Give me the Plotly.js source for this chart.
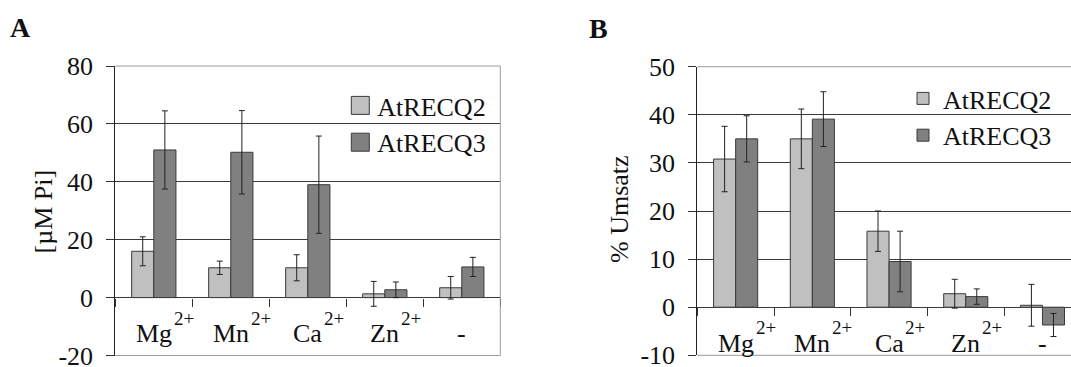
<!DOCTYPE html>
<html><head><meta charset="utf-8">
<script src="https://cdn.plot.ly/plotly-3.0.1.min.js"></script>
<style>html,body{margin:0;padding:0;background:#fff}#chart{width:1071px;height:367px}</style>
</head><body><div id="chart"></div>
<script>
// ---- data ----
const categories = ['Mg', 'Mn', 'Ca', 'Zn', '-'];
const charges = ['2+', '2+', '2+', '2+', ''];
const seriesNames = ['AtRECQ2', 'AtRECQ3'];

// Panel A: [µM Pi]
const piRECQ2 = [16.0, 10.3, 10.3, 1.3, 3.4];
const piRECQ2Err = [5.0, 2.3, 4.5, 4.3, 3.9];
const piRECQ3 = [51.0, 50.2, 39.0, 2.7, 10.6];
const piRECQ3Err = [13.5, 14.4, 16.8, 2.7, 3.3];

// Panel B: % Umsatz
const umRECQ2 = [30.8, 35.0, 15.8, 2.8, 0.4];
const umRECQ2Err = [6.8, 6.2, 4.2, 3.0, 4.35];
const umRECQ3 = [35.0, 39.1, 9.5, 2.2, -3.7];
const umRECQ3Err = [4.8, 5.7, 6.3, 1.6, 2.4];

const tickValsA = [-20, 0, 20, 40, 60, 80];
const tickTextA = ['-20', '0', '20', '40', '60', '80'];
const tickValsB = [-10, 0, 10, 20, 30, 40, 50];
const tickTextB = ['-10', '0', '10', '20', '30', '40', '50'];

const titleA = '[µM Pi]';
const titleB = '% Umsatz';
const panelLetters = ['A', 'B'];

// ---- layout helpers ----
const W = 1071, H = 367;
const px = v => v / W;
const py = v => 1 - v / H;
const FONT = 'Liberation Serif';
const TXT = '#111111';
const LIGHT = '#c0c0c0', DARK = '#808080', EDGE = '#3a3a3a';
const GRID = '#3a3a3a', BORDER = '#9a9a9a';
const LABEL_SIZE = 26, SUP_SIZE = 19;

const measureCtx = document.createElement('canvas').getContext('2d');
measureCtx.font = LABEL_SIZE + 'px "Liberation Serif"';
const textWidth = t => measureCtx.measureText(t).width;

function barTrace(name, y, err, color, xa, ya, legend) {
  return {
    type: 'bar', name: name, x: categories, y: y, xaxis: xa, yaxis: ya,
    legend: legend, showlegend: true,
    marker: {color: color, line: {color: EDGE, width: 1}},
    error_y: {type: 'data', array: err, visible: true, color: '#222', thickness: 1, width: 3},
    hoverinfo: 'skip'
  };
}

const traces = [
  barTrace(seriesNames[0], piRECQ2, piRECQ2Err, LIGHT, 'x', 'y', 'legend'),
  barTrace(seriesNames[1], piRECQ3, piRECQ3Err, DARK, 'x', 'y', 'legend'),
  barTrace(seriesNames[0], umRECQ2, umRECQ2Err, LIGHT, 'x2', 'y2', 'legend2'),
  barTrace(seriesNames[1], umRECQ3, umRECQ3Err, DARK, 'x2', 'y2', 'legend2')
];

const yDomA = [py(355.5), py(66)];
const yDomB = [py(355.3), py(66.7)];
const rangeA = [-20, 80];
const rangeB = [-10, 50];
const zeroPos = (dom, r) => dom[0] + (0 - r[0]) / (r[1] - r[0]) * (dom[1] - dom[0]);

const catW = 76.7;
const xLeftB = 697.3;

function yAxis(dom, r, tv, tt, anchor) {
  return {
    domain: dom, range: r, anchor: anchor, tickmode: 'array', tickvals: tv, ticktext: tt,
    ticks: 'outside', ticklen: 8, tickcolor: '#333', tickwidth: 1, ticklabelstandoff: 8,
    ticklabeloverflow: 'allow',
    showline: true, linecolor: '#222', linewidth: 1,
    showgrid: true, gridcolor: GRID, gridwidth: 1,
    zeroline: true, zerolinecolor: GRID, zerolinewidth: 1,
    tickfont: {family: FONT, size: 26, color: TXT}, fixedrange: true
  };
}
function xAxis(dom, r, pos) {
  return {
    domain: dom, range: r, type: 'category', anchor: 'free', position: pos,
    showticklabels: false, ticks: 'outside', ticklen: 8, tickcolor: '#333', tickwidth: 1,
    tickson: 'boundaries', showgrid: false, showline: false, zeroline: false, fixedrange: true
  };
}

function catLabels(xref, yref) {
  const out = [];
  categories.forEach((c, i) => {
    out.push({
      xref: xref, yref: yref, x: c, y: 0, xanchor: 'center', yanchor: 'bottom',
      yshift: -52.5, showarrow: false, text: c, font: {family: FONT, size: LABEL_SIZE, color: TXT}
    });
    if (charges[i]) {
      out.push({
        xref: xref, yref: yref, x: c, y: 0, xanchor: 'left', yanchor: 'bottom',
        xshift: textWidth(c) / 2, yshift: -33, showarrow: false, text: charges[i],
        font: {family: FONT, size: SUP_SIZE, color: TXT}
      });
    }
  });
  return out;
}

const annotations = [].concat(
  catLabels('x', 'y'), catLabels('x2', 'y2'),
  [
    {xref: 'paper', yref: 'paper', x: px(42.5), y: py(212), xanchor: 'center', yanchor: 'middle',
     textangle: -90, showarrow: false, text: titleA, font: {family: FONT, size: 26, color: TXT}},
    {xref: 'paper', yref: 'paper', x: px(619), y: py(209), xanchor: 'center', yanchor: 'middle',
     textangle: -90, showarrow: false, text: titleB, font: {family: FONT, size: 26, color: TXT}},
    {xref: 'paper', yref: 'paper', x: px(20.5), y: py(27.5), xanchor: 'center', yanchor: 'middle',
     showarrow: false, text: '<b>' + panelLetters[0] + '</b>', font: {family: FONT, size: 28, color: TXT}},
    {xref: 'paper', yref: 'paper', x: px(598.5), y: py(29), xanchor: 'center', yanchor: 'middle',
     showarrow: false, text: '<b>' + panelLetters[1] + '</b>', font: {family: FONT, size: 28, color: TXT}}
  ]
);

function borderLine(xr, yr, x0, y0, x1, y1) {
  return {type: 'line', xref: xr + ' domain', yref: yr + ' domain', x0: x0, y0: y0, x1: x1, y1: y1,
          line: {color: BORDER, width: 1}, layer: 'above'};
}
const shapes = [
  borderLine('x', 'y', 0, 1, 1, 1),
  borderLine('x', 'y', 1, 0, 1, 1),
  borderLine('x', 'y', 0, 0, 1, 0),
  borderLine('x2', 'y2', 0, 1, 1, 1),
  borderLine('x2', 'y2', 0, 0, 1, 0)
];

const legendStyle = {
  xanchor: 'left', yanchor: 'top', bgcolor: 'rgba(0,0,0,0)', borderwidth: 0,
  font: {family: FONT, size: 26, color: TXT}, traceorder: 'normal', itemclick: false, itemdoubleclick: false
};

const layout = {
  width: W, height: H, margin: {l: 0, r: 0, t: 0, b: 0},
  paper_bgcolor: '#fff', plot_bgcolor: '#fff',
  barmode: 'group', bargap: 0.425, bargroupgap: 0,
  showlegend: true,
  legend: Object.assign({x: px(337.3), y: py(82)}, legendStyle),
  legend2: Object.assign({x: px(903), y: py(75)}, legendStyle),
  xaxis: xAxis([px(115.3), px(500.3)], [-0.5, 4.5], zeroPos(yDomA, rangeA)),
  yaxis: yAxis(yDomA, rangeA, tickValsA, tickTextA, 'x'),
  xaxis2: xAxis([px(xLeftB), 1], [-0.5, -0.5 + (W - xLeftB) / catW], zeroPos(yDomB, rangeB)),
  yaxis2: yAxis(yDomB, rangeB, tickValsB, tickTextB, 'x2'),
  annotations: annotations,
  shapes: shapes
};

Plotly.newPlot('chart', traces, layout, {staticPlot: true, displayModeBar: false}).then(gd => {
  // enlarge the legend swatches to match the reference's bigger squares
  gd.querySelectorAll('.legend .legendpoints path').forEach(p => {
    p.setAttribute('d', 'M12,9H-6V-9H12Z');
  });
});
</script>
</body></html>
